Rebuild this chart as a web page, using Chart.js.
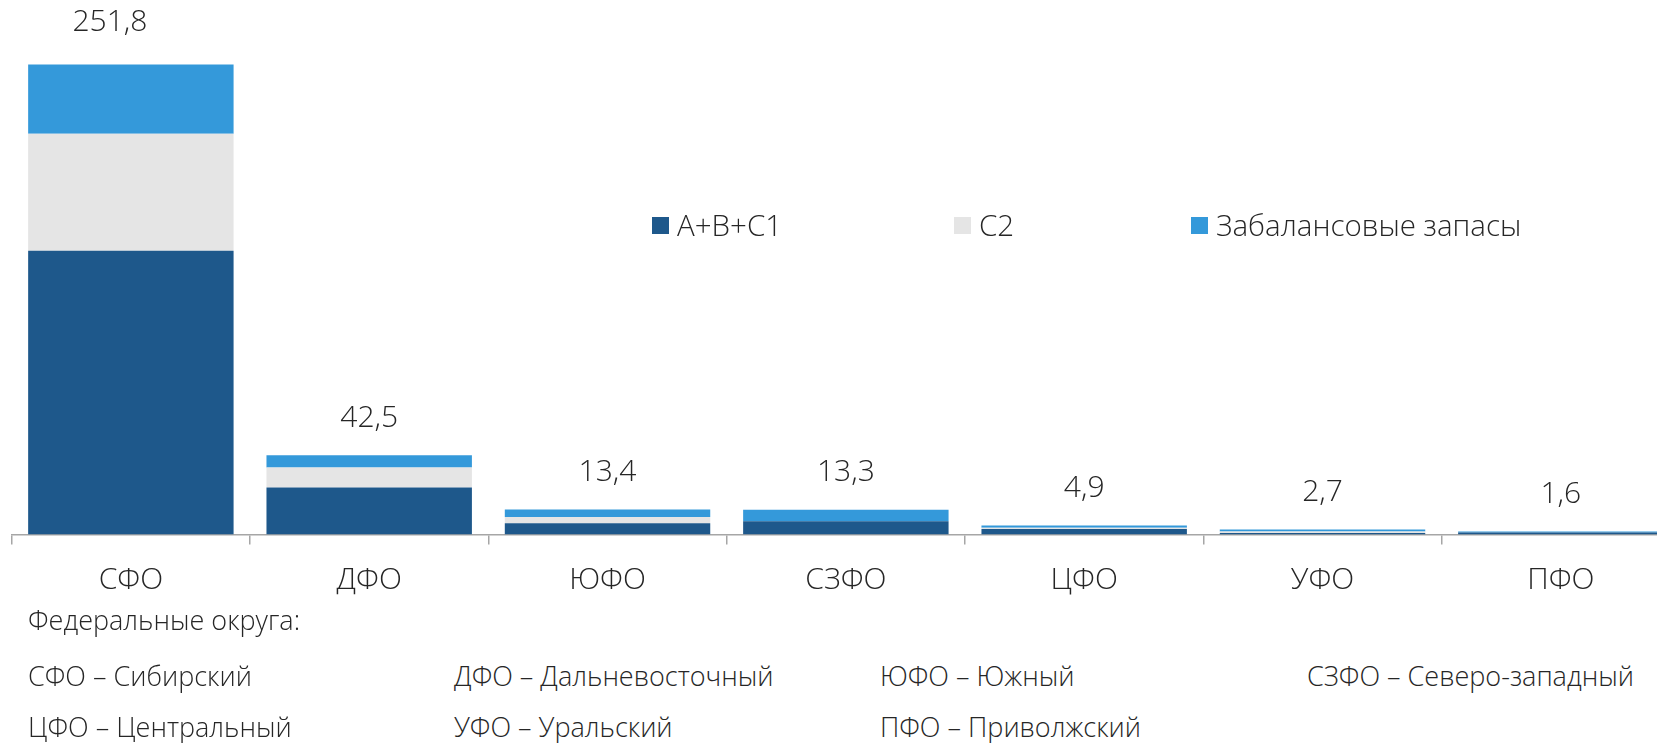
<!DOCTYPE html>
<html lang="ru">
<head>
<meta charset="utf-8">
<title>Запасы по федеральным округам</title>
<script src="https://cdn.jsdelivr.net/npm/chart.js@4.4.1/dist/chart.umd.min.js"></script>
<style>
  html, body { margin: 0; padding: 0; overflow: hidden; background: #fff; }
  body { width: 1657px; height: 743px; position: relative; font-family: "Open Sans", sans-serif; color: #262626; }
  #wrap { position: absolute; left: 0; top: 0; width: 1680px; height: 623px; }
  .lg { position: absolute; top: 211px; font-size: 29.5px; font-weight: 300; line-height: 28px; white-space: nowrap; display: flex; align-items: center; }
  .lg i { display: inline-block; width: 17px; height: 17px; margin-right: 8px; }
  .note { position: absolute; font-size: 27px; font-weight: 300; line-height: 27px; white-space: nowrap; }
</style>
</head>
<body>
<div id="wrap"><canvas id="chart"></canvas></div>
<div id="legend"></div>
<div id="notes"></div>
<script>
var categories = ["СФО", "ДФО", "ЮФО", "СЗФО", "ЦФО", "УФО", "ПФО"];
var seriesNames = ["А+В+С1", "С2", "Забалансовые запасы"];
var abc1 = [152.0, 25.2, 6.1, 7.1, 3.0, 0.9, 1.1];
var c2 = [62.7, 10.7, 3.3, 0, 0.7, 0.8, 0];
var offBalance = [37.1, 6.6, 4.0, 6.2, 1.2, 1.0, 0.5];
var totalLabels = ["251,8", "42,5", "13,4", "13,3", "4,9", "2,7", "1,6"];

var districtNames = ["Сибирский", "Дальневосточный", "Южный", "Северо-западный", "Центральный", "Уральский", "Приволжский"];
var noteOrder = ["СФО", "ДФО", "ЮФО", "СЗФО", "ЦФО", "УФО", "ПФО"];
var noteTitle = "Федеральные округа:";

var colors = ["#1e588b", "#e5e5e5", "#3499da"];

// подписи сумм над столбиками (первую в оригинале сдвинули влево-вверх)
var labelShift = [[-21, -5], [0, 0], [0, 0], [0, 0], [0, 0], [0, 0], [0, 0]];
var totalsPlugin = {
  id: "totals",
  afterDatasetsDraw: function (chart) {
    var ctx = chart.ctx;
    var last = chart.getDatasetMeta(chart.data.datasets.length - 1);
    ctx.save();
    ctx.font = '300 30px "Open Sans"';
    ctx.fillStyle = "#262626";
    ctx.textAlign = "center";
    ctx.textBaseline = "middle";
    last.data.forEach(function (bar, i) {
      ctx.fillText(totalLabels[i], bar.x + labelShift[i][0], bar.y - 37 + labelShift[i][1]);
    });
    ctx.restore();
  }
};

var chart = new Chart(document.getElementById("chart"), {
  type: "bar",
  data: {
    labels: categories,
    datasets: [
      { label: seriesNames[0], data: abc1, backgroundColor: colors[0] },
      { label: seriesNames[1], data: c2, backgroundColor: colors[1] },
      { label: seriesNames[2], data: offBalance, backgroundColor: colors[2] }
    ]
  },
  options: {
    responsive: true,
    maintainAspectRatio: false,
    animation: false,
    devicePixelRatio: 1,
    categoryPercentage: 1,
    barPercentage: 0.862,
    layout: { padding: { left: 11.7, right: 0, top: 0, bottom: 6.4 } },
    plugins: { legend: { display: false }, tooltip: { enabled: false } },
    scales: {
      x: {
        stacked: true,
        grid: { display: true, drawOnChartArea: false, drawTicks: true, tickLength: 10, color: "#a6a6a6", lineWidth: 1.5 },
        border: { display: true, color: "#a6a6a6", width: 1.5 },
        ticks: { color: "#262626", font: { family: "Open Sans", size: 30, weight: "300" }, padding: 18, maxRotation: 0, autoSkip: false }
      },
      y: { stacked: true, display: false, min: 0, max: 286.4 }
    }
  },
  plugins: [totalsPlugin]
});

// легенда
var legendLeft = [652, 954, 1191];
var legendHtml = "";
chart.data.datasets.forEach(function (ds, i) {
  legendHtml += '<div class="lg" style="left:' + legendLeft[i] + 'px"><i style="background:' + ds.backgroundColor + '"></i>' + ds.label + '</div>';
});
document.getElementById("legend").innerHTML = legendHtml;

// расшифровка округов
var colLeft = [28, 454, 880, 1307];
var rowTop = [662, 713];
var notesHtml = '<div class="note" style="left:28px;top:606px">' + noteTitle + '</div>';
noteOrder.forEach(function (code, i) {
  var row = i < 4 ? 0 : 1;
  var col = i < 4 ? i : i - 4;
  notesHtml += '<div class="note" style="left:' + colLeft[col] + 'px;top:' + rowTop[row] + 'px">' + code + ' – ' + districtNames[i] + '</div>';
});
document.getElementById("notes").innerHTML = notesHtml;
</script>
</body>
</html>
